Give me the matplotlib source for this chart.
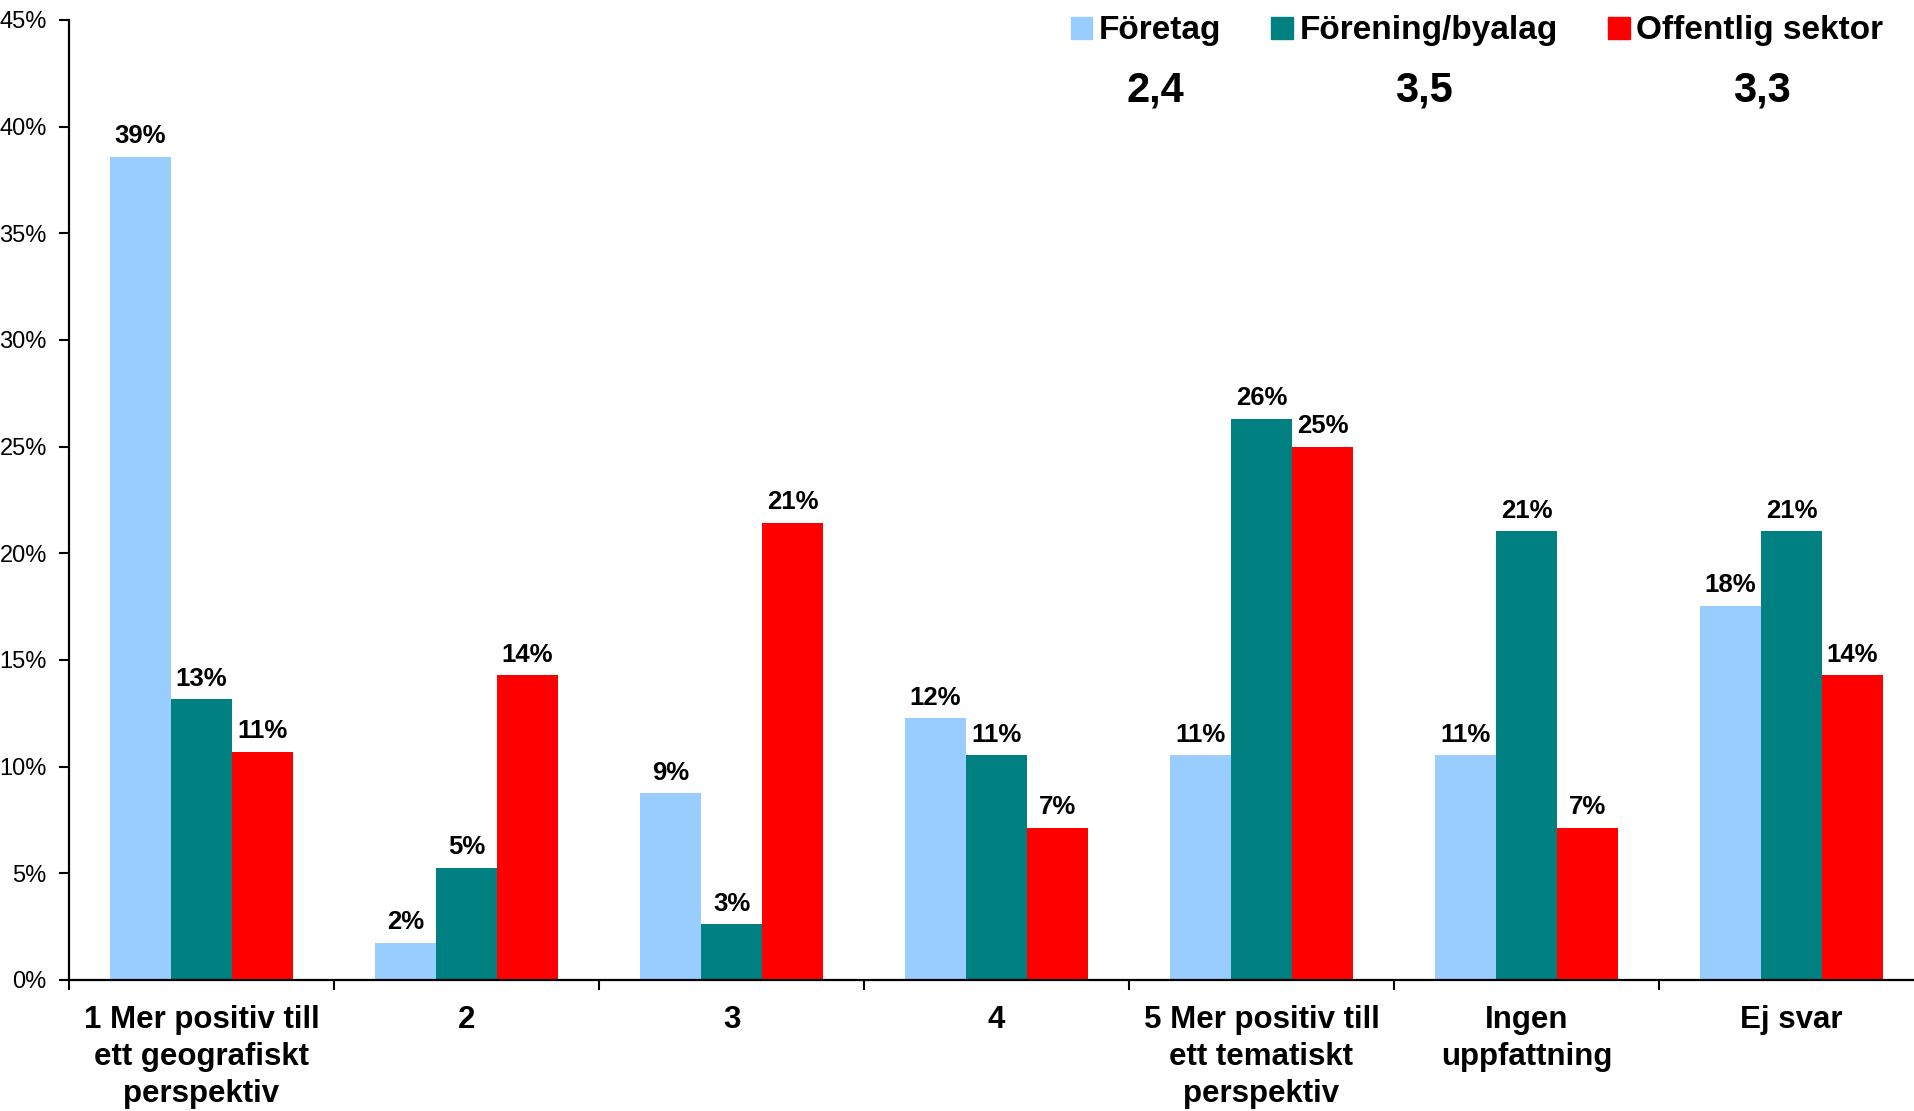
import numpy as np
import matplotlib
matplotlib.use('Agg')
import matplotlib.pyplot as plt
from matplotlib.patches import Patch

plt.rcParams['font.family'] = ['Liberation Sans', 'DejaVu Sans']

categories = ['1 Mer positiv till\nett geografiskt\nperspektiv', '2', '3', '4',
              '5 Mer positiv till\nett tematiskt\nperspektiv', 'Ingen\nuppfattning', 'Ej svar']
series_names = ['Företag', 'Förening/byalag', 'Offentlig sektor']
foretag = [38.6, 1.75, 8.77, 12.28, 10.53, 10.53, 17.54]
forening = [13.16, 5.26, 2.63, 10.53, 26.32, 21.05, 21.05]
offentlig = [10.71, 14.29, 21.43, 7.14, 25.0, 7.14, 14.29]
means = ['2,4', '3,5', '3,3']
colors = ['#99CCFF', '#008080', '#FF0000']

W, H = 1915, 1111
fig = plt.figure(figsize=(W / 100, H / 100), dpi=100)
left, right, bottom, top = 69, 1924, 980, 20
ax = fig.add_axes([left / W, (H - bottom) / H, (right - left) / W, (bottom - top) / H])

x = np.arange(len(categories))
width = 0.23
for i, (vals, name, c) in enumerate(zip([foretag, forening, offentlig], series_names, colors)):
    pos = x + (i - 1) * width
    ax.bar(pos, vals, width, color=c, label=name)
    for px, v in zip(pos, vals):
        ax.annotate(f'{round(v)}%', (px, v), xytext=(0, 6), textcoords='offset points',
                    ha='center', va='bottom', fontsize=18.5, fontweight='bold')

ax.set_xlim(-0.5, len(categories) - 0.5)
ax.set_ylim(0, 45)
ax.set_yticks(np.arange(0, 46, 5))
ax.set_yticklabels([f'{t}%' for t in range(0, 46, 5)], fontsize=17)
ax.set_xticks(x)
ax.set_xticklabels(categories, fontsize=22.5, fontweight='bold', linespacing=1.3)
ax.set_xticks(np.arange(-0.5, len(categories)), minor=True)
ax.tick_params(axis='x', which='major', length=0, pad=18)
ax.tick_params(axis='x', which='minor', length=7, width=1.5, direction='out')
ax.tick_params(axis='y', length=7, width=1.5, direction='out', pad=9)

for s in ['top', 'right']:
    ax.spines[s].set_visible(False)
for s in ['left', 'bottom']:
    ax.spines[s].set_linewidth(1.6)

handles = [Patch(color=c) for c in colors]
fig.legend(handles, series_names, loc='center', bbox_to_anchor=(1477 / W, 1 - 31 / H),
           ncol=3, frameon=False, prop={'size': 24, 'weight': 'bold'},
           handlelength=0.65, handleheight=0.65, handletextpad=0.2,
           columnspacing=1.5, borderpad=0)

for m, mx in zip(means, [1155, 1424, 1762]):
    fig.text(mx / W, 1 - 90 / H, m, ha='center', va='center', fontsize=30, fontweight='bold')

fig.savefig('out.png', dpi=100)
